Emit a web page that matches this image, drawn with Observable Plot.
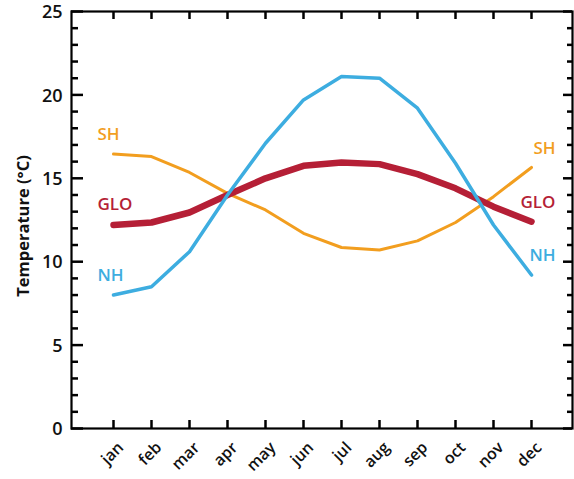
<!DOCTYPE html>
<html><head><meta charset="utf-8">
<script src="https://cdn.jsdelivr.net/npm/d3@7"></script>
<script src="https://cdn.jsdelivr.net/npm/@observablehq/plot@0.6"></script>
<style>body{margin:0;background:#fff} svg{font-family:"Open Sans",sans-serif}</style>
</head><body><div id="chart"></div>
<script>
const months = ["jan","feb","mar","apr","may","jun","jul","aug","sep","oct","nov","dec"];
const nh  = [8.0, 8.5, 10.6, 14.0, 17.1, 19.7, 21.1, 21.0, 19.2, 15.9, 12.2, 9.2];
const sh  = [16.45, 16.3, 15.35, 14.1, 13.1, 11.7, 10.85, 10.7, 11.25, 12.35, 13.9, 15.65];
const glo = [12.2, 12.35, 12.95, 14.0, 15.0, 15.75, 15.95, 15.85, 15.25, 14.4, 13.3, 12.4];
const seriesNames = ["SH", "GLO", "NH"];
const seriesColors = ["#f29e1f", "#b51f36", "#3dade0"];
const seriesWidths = [3, 6.5, 3.5];
const yMajor = [0, 5, 10, 15, 20, 25];
const yMinor = [1,2,3,4,6,7,8,9,11,12,13,14,16,17,18,19,21,22,23,24];
const yTitle = "Temperature (°C)";

const fw = 574 - 71 - 2, fh = 479 - 11 - 51;

const valuesBy = {SH: sh, GLO: glo, NH: nh};
const rows = seriesNames.flatMap(s => months.map((m, i) => ({series: s, month: m, value: valuesBy[s][i]})));
const firsts = seriesNames.map(s => ({series: s, month: months[0], value: valuesBy[s][0]}));
const lasts = seriesNames.map(s => ({series: s, month: months[11], value: valuesBy[s][11]}));
const colorOf = s => seriesColors[seriesNames.indexOf(s)];
const ident = d => d;

const chart = Plot.plot({
  width: 574, height: 479,
  marginLeft: 71, marginRight: 2, marginTop: 11, marginBottom: 51,
  style: {fontFamily: "'Open Sans', sans-serif"},
  x: {type: "point", domain: months, padding: 0.95, axis: null},
  y: {domain: [0, 25], axis: null},
  marks: [
    Plot.ruleY(yMajor, {y: ident, insetRight: fw - 12, stroke: "#000", strokeWidth: 2.5}),
    Plot.ruleY(yMinor, {y: ident, insetRight: fw - 7, stroke: "#000", strokeWidth: 2.5}),
    Plot.ruleY(yMajor, {y: ident, insetLeft: fw - 9, stroke: "#000", strokeWidth: 2.5}),
    Plot.ruleY(yMinor, {y: ident, insetLeft: fw - 5, stroke: "#000", strokeWidth: 2.5}),
    Plot.ruleX(months, {x: ident, insetTop: fh - 8, stroke: "#000", strokeWidth: 2.5}),
    Plot.ruleX(months, {x: ident, insetBottom: fh - 8, stroke: "#000", strokeWidth: 2.5}),
    ...seriesNames.map((s, i) => Plot.line(rows.filter(d => d.series === s), {
      x: "month", y: "value", stroke: seriesColors[i], strokeWidth: seriesWidths[i], strokeLinejoin: "round", strokeLinecap: "round"
    })),
    Plot.text(firsts, {x: "month", y: "value", text: "series", fill: d => colorOf(d.series), textAnchor: "start", dx: -16, dy: -20, fontSize: 17, fontWeight: 600}),
    Plot.text(lasts, {x: "month", y: "value", text: "series", fill: d => colorOf(d.series), textAnchor: "end", dx: 24, dy: -19, fontSize: 17, fontWeight: 600}),
    Plot.text(yMajor, {y: ident, text: d => String(d), frameAnchor: "left", textAnchor: "end", dx: -9, dy: 1, fontSize: 18, fontWeight: 600, fill: "#111"}),
    Plot.text(months, {x: ident, text: ident, frameAnchor: "bottom", rotate: -45, textAnchor: "end", lineAnchor: "top", dx: 3, dy: 12, fontSize: 16, fontWeight: 600, fill: "#111"}),
    Plot.text([yTitle], {frameAnchor: "left", textAnchor: "middle", rotate: -90, dx: -48, dy: 6, fontSize: 16.5, fontWeight: "bold", fill: "#111"}),
    Plot.frame({stroke: "black", strokeWidth: 2.2})
  ]
});
document.getElementById("chart").append(chart);
</script>
</body></html>
